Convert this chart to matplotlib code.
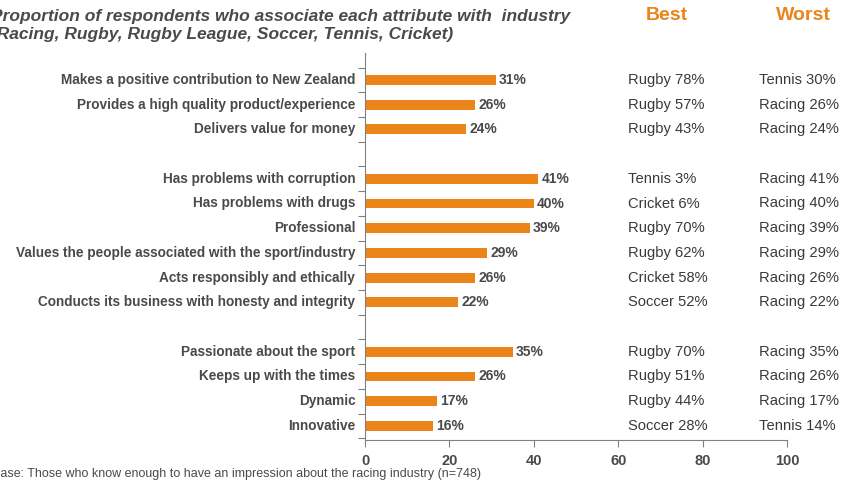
import matplotlib.pyplot as plt

plt.rcParams['font.family'] = 'Liberation Sans'

# dados
atributos = [
    'Makes a positive contribution to New Zealand',
    'Provides a high quality product/experience',
    'Delivers value for money',
    None,
    'Has problems with corruption',
    'Has problems with drugs',
    'Professional',
    'Values the people associated with the sport/industry',
    'Acts responsibly and ethically',
    'Conducts its business with honesty and integrity',
    None,
    'Passionate about the sport',
    'Keeps up with the times',
    'Dynamic',
    'Innovative',
]
valores = [31, 26, 24, None, 41, 40, 39, 29, 26, 22, None, 35, 26, 17, 16]
melhor = ['Rugby 78%', 'Rugby 57%', 'Rugby 43%', None,
          'Tennis 3%', 'Cricket 6%', 'Rugby 70%', 'Rugby 62%', 'Cricket 58%', 'Soccer 52%', None,
          'Rugby 70%', 'Rugby 51%', 'Rugby 44%', 'Soccer 28%']
pior = ['Tennis 30%', 'Racing 26%', 'Racing 24%', None,
        'Racing 41%', 'Racing 40%', 'Racing 39%', 'Racing 29%', 'Racing 26%', 'Racing 22%', None,
        'Racing 35%', 'Racing 26%', 'Racing 17%', 'Tennis 14%']
xticks = [0, 20, 40, 60, 80, 100]

laranja = '#EB8419'
cinza = '#4A4A4A'

fig = plt.figure(figsize=(8.41, 4.82), dpi=100)
ax = fig.add_axes([365 / 841, 1 - 440 / 482, (787 - 365) / 841, (440 - 53) / 482])

for i, (a, v) in enumerate(zip(atributos, valores)):
    if a is None:
        continue
    ax.barh(i, v, height=0.4, color=laranja)
    ax.text(v + 0.8, i, f'{v}%', va='center', ha='left', fontsize=10,
            fontweight='bold', color=cinza)
    ax.text(-2.3, i, a, va='center', ha='right', fontsize=9.8,
            fontweight='bold', color=cinza)
    ax.text(62.3, i, melhor[i], va='center', ha='left', fontsize=10.6, color='#3a3a3a')
    ax.text(93.3, i, pior[i], va='center', ha='left', fontsize=10.6, color='#3a3a3a')

ax.set_xlim(0, 100)
ax.set_ylim(14.57, -1.09)
ax.set_xticks(xticks)
ax.set_xticklabels([str(t) for t in xticks], fontsize=10.5, fontweight='bold', color=cinza)
ax.set_yticks([i - 0.5 for i in range(16)])
ax.set_yticklabels([])
ax.tick_params(axis='x', length=5, color='#808080', pad=5)
ax.tick_params(axis='y', length=5, color='#808080')
for s in ['top', 'right']:
    ax.spines[s].set_visible(False)
for s in ['left', 'bottom']:
    ax.spines[s].set_color('#808080')

fig.text(667 / 841, 1 - 16 / 482, 'Best', ha='center', va='center', fontsize=14,
         fontweight='bold', color=laranja)
fig.text(803 / 841, 1 - 16 / 482, 'Worst', ha='center', va='center', fontsize=14,
         fontweight='bold', color=laranja)

fig.text(-0.011, 1 - 16 / 482, 'Proportion of respondents who associate each attribute with  industry',
         ha='left', va='center', fontsize=12.5, fontweight='bold', style='italic', color=cinza)
fig.text(-0.011, 1 - 35 / 482, '(Racing, Rugby, Rugby League, Soccer, Tennis, Cricket)',
         ha='left', va='center', fontsize=12.5, fontweight='bold', style='italic', color=cinza)
fig.text(-0.009, 1 - 474 / 482, 'Base: Those who know enough to have an impression about the racing industry (n=748)',
         ha='left', va='center', fontsize=9, color=cinza)

plt.savefig('out.png', dpi=100)
